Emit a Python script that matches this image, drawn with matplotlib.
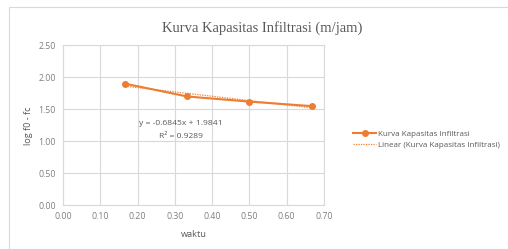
import numpy as np
import matplotlib.pyplot as plt
from matplotlib.patches import Rectangle

# waktu (jam) and log(f0 - fc)
waktu = [1/6, 2/6, 3/6, 4/6]
log_f = [1.90, 1.70, 1.62, 1.55]
xticks = [0.0, 0.1, 0.2, 0.3, 0.4, 0.5, 0.6, 0.7]
yticks = [0.0, 0.5, 1.0, 1.5, 2.0, 2.5]

ORANGE = '#ED7D31'
GREY = '#595959'
GRID = '#D9D9D9'

plt.rcParams['font.family'] = ['Open Sans', 'DejaVu Sans']

fig = plt.figure(figsize=(5.08, 2.49), dpi=100)
fig.patches.append(Rectangle((9/508, 0.0), 1.0, 1 - 7/249, transform=fig.transFigure,
                             fill=False, edgecolor=GRID, linewidth=0.8))

ax = fig.add_axes([63/508, 1 - 205.3/249, 261/508, 160/249])

ax.plot(waktu, log_f, color=ORANGE, linewidth=1.5, marker='o', markersize=4,
        label='Kurva Kapasitas Infiltrasi', zorder=3)

# linear trendline
m, b = np.polyfit(waktu, log_f, 1)
xs = np.array([waktu[0], waktu[-1]])
ax.plot(xs, m * xs + b, color=ORANGE, linestyle=(0, (1, 1)), linewidth=0.9,
        label='Linear (Kurva Kapasitas Infiltrasi)', zorder=2)

ax.text(0.316, 1.28, 'y = -0.6845x + 1.9841', fontsize=6.1, color=GREY, ha='center', va='center')
ax.text(0.316, 1.07, 'R² = 0.9289', fontsize=6.1, color=GREY, ha='center', va='center')

ax.set_xlim(0, 0.7)
ax.set_ylim(0, 2.5)
ax.set_xticks(xticks)
ax.set_yticks(yticks)
ax.set_xticklabels([f'{v:.2f}' for v in xticks])
ax.set_yticklabels([f'{v:.2f}' for v in yticks])
ax.tick_params(length=0, labelsize=6.3, labelcolor='#7F7F7F', pad=5)
ax.grid(True, color=GRID, linewidth=0.8)
ax.set_axisbelow(True)
for s in ax.spines.values():
    s.set_color(GRID)
    s.set_linewidth(0.8)

ax.set_xlabel('waktu', fontsize=6.6, color=GREY, labelpad=6)
ax.set_ylabel('log f0 - fc', fontsize=6.6, color=GREY, labelpad=4)

fig.text(262/508, 1 - 28/249, 'Kurva Kapasitas Infiltrasi (m/jam)', ha='center', va='center',
         fontsize=10.5, color=GREY, family='Liberation Serif')

ax.legend(loc='center left', bbox_to_anchor=(1.1, 0.41), frameon=False, fontsize=5.8,
          labelcolor=GREY, handlelength=2.8, handletextpad=0.3, borderaxespad=0, labelspacing=0.45)

fig.savefig('out.png', dpi=100)
